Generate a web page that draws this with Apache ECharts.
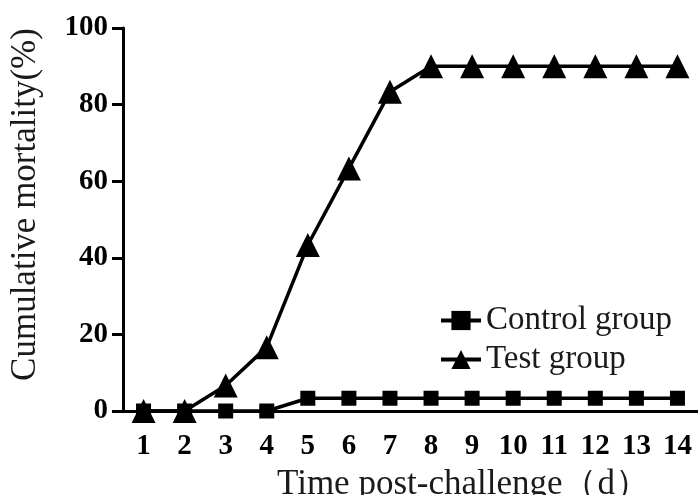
<!DOCTYPE html>
<html>
<head>
<meta charset="utf-8">
<script src="https://cdn.jsdelivr.net/npm/echarts@6/dist/echarts.min.js"></script>
<style>html,body{margin:0;padding:0;background:#fff;}#chart{width:698px;height:495px;}</style>
</head>
<body>
<div id="chart"></div>
<script>
const days = ['1','2','3','4','5','6','7','8','9','10','11','12','13','14'];
const controlGroup = [0,0,0,0,3.33,3.33,3.33,3.33,3.33,3.33,3.33,3.33,3.33,3.33];
const testGroup = [0,0,6.67,16.67,43.33,63.33,83.33,90,90,90,90,90,90,90];
const yTicks = [0,20,40,60,80,100];

const chart = echarts.init(document.getElementById('chart'));
const serif = 'Liberation Serif';
chart.setOption({
  backgroundColor: '#ffffff',
  animation: false,
  textStyle: {fontFamily: serif},
  grid: {left: 123, right: 0, top: 28, bottom: 84, containLabel: false, outerBoundsMode: 'none'},
  legend: {
    left: 434, top: 298, orient: 'vertical',
    itemWidth: 40, itemHeight: 24, itemGap: 4,
    lineStyle: {width: 4, color: '#000'},
    textStyle: {fontFamily: serif, fontSize: 33, color: '#1a1a1a', lineHeight: 35},
    data: ['Control group', 'Test group']
  },
  xAxis: {
    type: 'category', data: days, boundaryGap: true,
    name: 'Time post-challenge（d）', nameLocation: 'middle', nameGap: 56,
    nameTextStyle: {fontFamily: serif, fontSize: 35, color: '#1a1a1a', padding: [0,0,0,106]},
    axisLine: {lineStyle: {color: '#000', width: 3}},
    axisTick: {alignWithLabel: true, length: 12, lineStyle: {color: '#000', width: 3}},
    axisLabel: {interval: 0, fontFamily: serif, fontWeight: 'bold', fontSize: 29, color: '#000', margin: 21}
  },
  yAxis: {
    type: 'value', min: 0, max: 100, interval: 20,
    name: 'Cumulative mortality(%)', nameLocation: 'middle', nameGap: 80, nameRotate: 90,
    nameTextStyle: {fontFamily: serif, fontSize: 35, color: '#1a1a1a', padding: [0,0,0,30]},
    axisLine: {show: true, lineStyle: {color: '#000', width: 3}},
    axisTick: {show: true, length: 11, lineStyle: {color: '#000', width: 3}},
    splitLine: {show: false},
    axisLabel: {fontFamily: serif, fontWeight: 'bold', fontSize: 29, color: '#000', margin: 15,
      formatter: v => yTicks.includes(v) ? String(v) : ''}
  },
  series: [
    {name: 'Control group', type: 'line', data: controlGroup, symbol: 'rect', symbolSize: 15,
     lineStyle: {color: '#000', width: 3.5}, itemStyle: {color: '#000'}, z: 3},
    {name: 'Test group', type: 'line', data: testGroup, symbol: 'triangle', symbolSize: 24,
     lineStyle: {color: '#000', width: 3.5}, itemStyle: {color: '#000'}, z: 4}
  ]
});
</script>
</body>
</html>
